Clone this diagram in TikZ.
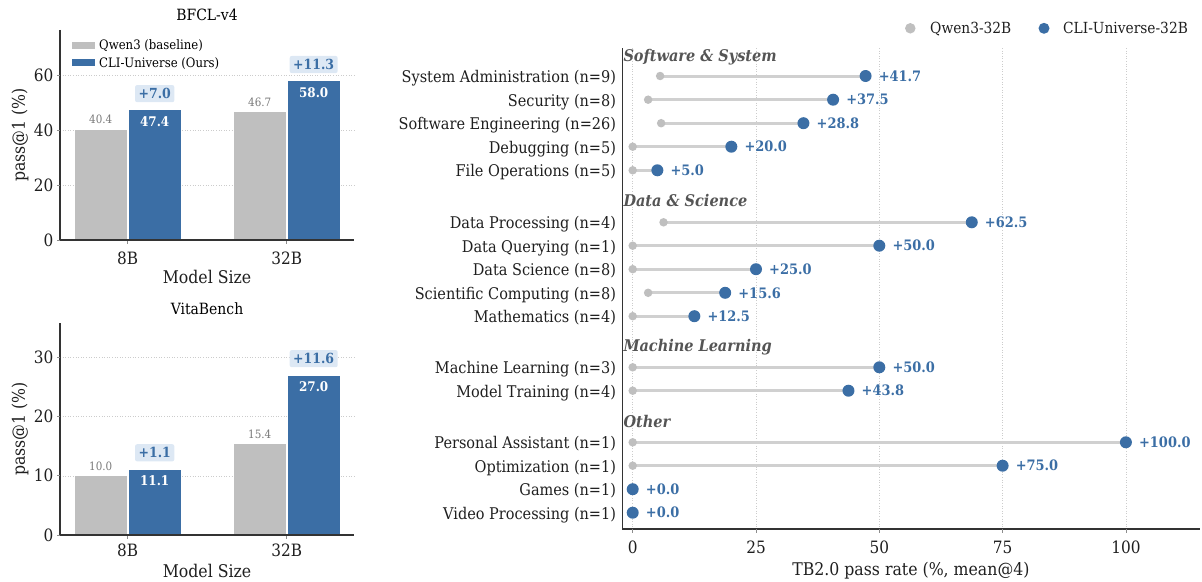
\documentclass[tikz,border=0pt]{standalone}
\usepackage{fontspec}
\setmainfont{DejaVu Serif}[FakeStretch=0.9]
\usetikzlibrary{backgrounds}

\definecolor{oursblue}{RGB}{59,110,165}
\definecolor{basegray}{RGB}{191,191,191}
\definecolor{gainfill}{RGB}{221,232,244}
\definecolor{stemgray}{RGB}{208,208,208}
\definecolor{headgray}{RGB}{85,85,85}
\definecolor{valgray}{RGB}{120,120,120}
\definecolor{spinecol}{RGB}{51,51,51}

\tikzset{
  spineline/.style={draw=spinecol, line width=1.1pt},
  tickmark/.style={draw=black!45, line width=0.7pt},
  gridline/.style={dotted, draw=black!20, line width=0.6pt},
  ticklab/.style={inner sep=0, text=black!88, font=\fontsize{17}{19}\selectfont},
  axlab/.style={inner sep=0, text=black!88, font=\fontsize{17.5}{19}\selectfont},
  paneltitle/.style={inner sep=0, font=\fontsize{15.5}{17}\selectfont},
  basebar/.style={fill=basegray, draw=white, line width=0.8pt},
  oursbar/.style={fill=oursblue, draw=white, line width=0.8pt},
  baseval/.style={inner sep=0, text=valgray, font=\fontsize{11.5}{13}\selectfont},
  oursval/.style={inner sep=0, text=white, font=\fontsize{13.3}{15}\selectfont\bfseries},
  gainbox/.style={fill=gainfill, rounded corners=2pt, inner xsep=3.5pt, inner ysep=3.3pt,
    text=oursblue, font=\fontsize{13.9}{15}\selectfont\bfseries},
  legtext/.style={inner sep=0, anchor=base west, yshift=-4.7pt, font=\fontsize{13}{15}\selectfont},
  rowlab/.style={inner sep=0, anchor=base east, yshift=-6.3pt, text=black!88, font=\fontsize{16.1}{18}\selectfont},
  headlab/.style={inner sep=0, anchor=base west, yshift=-5.9pt, text=headgray, font=\fontsize{16.1}{18}\selectfont\bfseries\itshape},
  qdot/.style={circle, fill=basegray, inner sep=0, minimum size=8.5pt},
  odot/.style={circle, fill=oursblue, inner sep=0, minimum size=12pt},
  stem/.style={draw=stemgray, line width=3pt},
  gainlab/.style={inner sep=0, anchor=west, text=oursblue, font=\fontsize{14.4}{16}\selectfont\bfseries},
  dotleg/.style={inner sep=0, anchor=base west, yshift=-5.6pt, text=black!88, font=\fontsize{15.3}{17}\selectfont}
}

\begin{document}
\begin{tikzpicture}[x=1pt, y=-1pt]
    \useasboundingbox (0,0) rectangle (1202,581);

    % --- BFCL-v4 (oben links) ---
    \begin{scope}[shift={(60pt,-240pt)}, x=1pt, y=2.75pt]
        % Gitterlinien
        \foreach \v in {20,40,60}
            \draw[gridline] (0,\v) -- (294,\v);
        % Balken mit Werten
        \foreach \n/\cx/\q/\o/\g in {8B/67.7/40.4/47.4/+7.0, 32B/226.7/46.7/58.0/+11.3} {
            \draw[basebar] (\cx-53.5,0) rectangle (\cx-0.5,\q);
            \draw[oursbar] (\cx+0.5,0) rectangle (\cx+53.5,\o);
            \node[baseval, yshift=9.5pt] (bq-\n) at (\cx-27,\q) {\q};
            \node[oursval, yshift=-12pt] (bo-\n) at (\cx+27,\o) {\o};
            \node[gainbox, yshift=16pt] (bg-\n) at (\cx+27,\o) {\g};
            \draw[tickmark] (\cx,0) -- ++(0,-3.5pt);
            \node[ticklab, yshift=-18pt] (bx-\n) at (\cx,0) {\n};
        }
        % Achsen
        \draw[spineline] (0,76.4) -- (0,0) -- (294,0);
        \foreach \v in {0,20,40,60} {
            \draw[tickmark] (0,\v) -- ++(-3.5pt,0);
            \node[ticklab, anchor=east, xshift=-6.5pt] (by-\v) at (0,\v) {\v};
        }
        \node[axlab, rotate=90] (bylab) at (-40,38.2) {pass@1 (\%)};
        \node[axlab, yshift=-37pt] (bxlab) at (147,0) {Model Size};
        \node[paneltitle, yshift=15pt] (btitle) at (147,76.4) {BFCL-v4};
    \end{scope}

    % Legende oben links
    \fill[basegray] (72,41.5) rectangle (95,48.5);
    \node[legtext] (leg-base) at (99,45) {Qwen3 (baseline)};
    \fill[oursblue] (72,59.2) rectangle (95,66.2);
    \node[legtext] (leg-ours) at (99,62.7) {CLI-Universe (Ours)};

    % --- VitaBench (unten links) ---
    \begin{scope}[shift={(60pt,-535pt)}, x=1pt, y=5.92pt]
        \foreach \v in {10,20,30}
            \draw[gridline] (0,\v) -- (294,\v);
        \foreach \n/\cx/\q/\o/\g in {8B/67.7/10.0/11.1/+1.1, 32B/226.7/15.4/27.0/+11.6} {
            \draw[basebar] (\cx-53.5,0) rectangle (\cx-0.5,\q);
            \draw[oursbar] (\cx+0.5,0) rectangle (\cx+53.5,\o);
            \node[baseval, yshift=9.8pt] (vq-\n) at (\cx-27,\q) {\q};
            \node[oursval, yshift=-11.5pt] (vo-\n) at (\cx+27,\o) {\o};
            \node[gainbox, yshift=16.5pt] (vg-\n) at (\cx+27,\o) {\g};
            \draw[tickmark] (\cx,0) -- ++(0,-3.5pt);
            \node[ticklab, yshift=-15.5pt] (vx-\n) at (\cx,0) {\n};
        }
        \draw[spineline] (0,35.8) -- (0,0) -- (294,0);
        \foreach \v in {0,10,20,30} {
            \draw[tickmark] (0,\v) -- ++(-3.5pt,0);
            \node[ticklab, anchor=east, xshift=-6.5pt] (vy-\v) at (0,\v) {\v};
        }
        \node[axlab, rotate=90] (vylab) at (-40,17.9) {pass@1 (\%)};
        \node[axlab, yshift=-36pt] (vxlab) at (147,0) {Model Size};
        \node[paneltitle, yshift=14.3pt] (vtitle) at (147,35.8) {VitaBench};
    \end{scope}

    % --- Lollipop-Diagramm (rechts) ---
    \begin{scope}[shift={(632.7pt,0pt)}, x=4.932pt, y=-1pt]
        \begin{pgfonlayer}{background}
            \foreach \v in {0,25,50,75,100}
                \draw[gridline] (\v,48) -- (\v,529);
        \end{pgfonlayer}
        % Kategorien
        \node[headlab, xshift=-9.4pt] (h-sw) at (0,55.3) {Software \& System};
        \node[headlab, xshift=-9.4pt] (h-ds) at (0,201) {Data \& Science};
        \node[headlab, xshift=-9.4pt] (h-ml) at (0,346) {Machine Learning};
        \node[headlab, xshift=-9.4pt] (h-ot) at (0,421.7) {Other};
        % Zeilen: Name/y/Beschriftung/Qwen3/CLI-Universe/Gewinn
        \foreach \n/\yy/\lab/\q/\o/\g in {
            sa/76/System Administration (n=9)/5.56/47.22/+41.7,
            sec/99.7/Security (n=8)/3.13/40.63/+37.5,
            se/123.2/Software Engineering (n=26)/5.77/34.62/+28.8,
            dbg/146.7/Debugging (n=5)/0/20/+20.0,
            fo/170.3/File Operations (n=5)/0/5/+5.0,
            dp/222.3/Data Processing (n=4)/6.25/68.75/+62.5,
            dq/245.7/Data Querying (n=1)/0/50/+50.0,
            ds/269.2/Data Science (n=8)/0/25/+25.0,
            sc/292.8/Scientific Computing (n=8)/3.13/18.75/+15.6,
            ma/316.2/Mathematics (n=4)/0/12.5/+12.5,
            ml/367.3/Machine Learning (n=3)/0/50/+50.0,
            mt/390.7/Model Training (n=4)/0/43.75/+43.8,
            pa/442.3/Personal Assistant (n=1)/0/100/+100.0,
            op/465.7/Optimization (n=1)/0/75/+75.0,
            gm/489.2/Games (n=1)/0/0/+0.0,
            vp/512.7/Video Processing (n=1)/0/0/+0.0} {
            \node[rowlab, xshift=-16.5pt] (lab-\n) at (0,\yy) {\lab};
            \node[qdot] (q-\n) at (\q,\yy) {};
            \node[odot] (o-\n) at (\o,\yy) {};
            \begin{pgfonlayer}{background}
                \draw[stem] (q-\n.center) -- (o-\n.center);
            \end{pgfonlayer}
            \node[gainlab, xshift=13pt] (g-\n) at (o-\n.center) {\g};
        }
        % Achsen
        \draw[spineline] (-2.03,48) -- (-2.03,529) -- (115,529);
        \foreach \v in {0,25,50,75,100} {
            \draw[tickmark] (\v,529) -- ++(0,-3.5pt);
            \node[ticklab] (rx-\v) at (\v,547.5) {\v};
        }
        \node[axlab, anchor=base, yshift=-6.4pt] (rxlab) at (56.4,569.2) {TB2.0 pass rate (\%, mean@4)};
    \end{scope}

    % Legende oben rechts
    \node[qdot, minimum size=10.5pt] (rleg-q) at (910.3,28.3) {};
    \node[dotleg] (rleg-qt) at (930,28.3) {Qwen3-32B};
    \node[odot, minimum size=11pt] (rleg-o) at (1044,28.3) {};
    \node[dotleg] (rleg-ot) at (1063,28.3) {CLI-Universe-32B};
\end{tikzpicture}
\end{document}
